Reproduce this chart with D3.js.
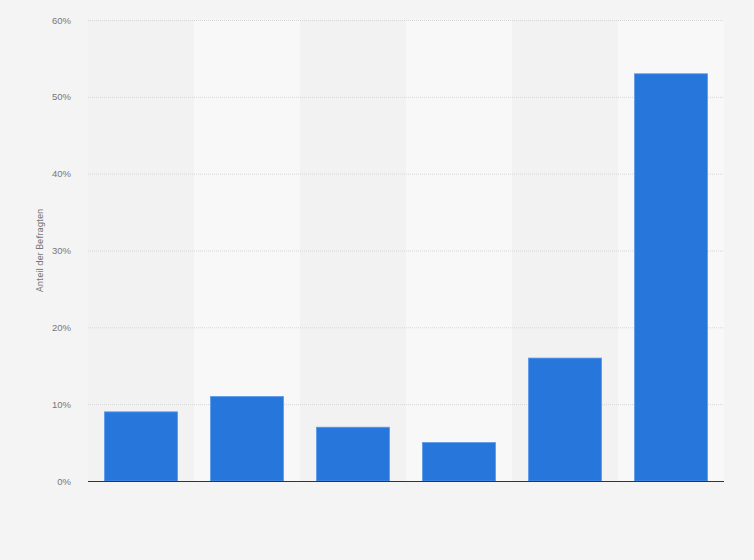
<!DOCTYPE html>
<html>
<head>
<meta charset="utf-8">
<script src="https://cdn.jsdelivr.net/npm/d3@7"></script>
<style>
  body { margin: 0; background: #f4f4f4; }
  svg { display: block; font-family: Roboto, "Noto Sans", sans-serif; }
</style>
</head>
<body>
<div id="chart"></div>
<script>
// data (no category labels shown)
const categories = ["A", "B", "C", "D", "E", "F"];
const shares = [9, 11, 7, 5, 16, 53];
const yTicks = [0, 10, 20, 30, 40, 50, 60];
const yTitle = "Anteil der Befragten";

const svgWidth = 754, svgHeight = 560;
const margin = { top: 20, right: 30, bottom: 79, left: 88 };
const width = svgWidth - margin.left - margin.right;
const height = svgHeight - margin.top - margin.bottom;

const svg = d3.select("#chart")
  .append("svg")
  .attr("width", svgWidth)
  .attr("height", svgHeight);

svg.append("rect")
  .attr("width", svgWidth)
  .attr("height", svgHeight)
  .attr("fill", "#f4f4f4");

const g = svg.append("g")
  .attr("transform", `translate(${margin.left},${margin.top})`);

const x = d3.scaleBand()
  .domain(categories)
  .range([0, width])
  .paddingInner(0)
  .paddingOuter(0);

const y = d3.scaleLinear()
  .domain([0, 60])
  .range([height, 0]);

// alternating column bands
g.selectAll("rect.band")
  .data(categories)
  .join("rect")
    .attr("class", "band")
    .attr("x", d => x(d))
    .attr("y", 0)
    .attr("width", x.bandwidth())
    .attr("height", height)
    .attr("fill", (d, i) => i % 2 === 0 ? "#f2f2f2" : "#f8f8f8");

// gridlines
g.selectAll("line.grid")
  .data(yTicks.filter(t => t > 0))
  .join("line")
    .attr("class", "grid")
    .attr("x1", 0)
    .attr("x2", width)
    .attr("y1", d => y(d) + 0.5)
    .attr("y2", d => y(d) + 0.5)
    .attr("stroke", "#d6d6d6")
    .attr("stroke-dasharray", "1,1");

// tick labels
const yAxisG = g.append("g")
  .attr("transform", "translate(-14,0)")
  .call(d3.axisLeft(y).tickValues(yTicks).tickSize(0).tickFormat(d => d + "%"));
yAxisG.select("path.domain").remove();
yAxisG.selectAll("text")
  .attr("fill", "#777")
  .style("font-size", "9.5px");

// bars
const barW = 73;
g.selectAll("rect.bar")
  .data(shares)
  .join("rect")
    .attr("class", "bar")
    .attr("x", (d, i) => x(categories[i]) + (x.bandwidth() - barW) / 2)
    .attr("y", d => y(d))
    .attr("width", barW)
    .attr("height", d => height - y(d))
    .attr("fill", "#2776dc")
    .attr("stroke", "#5c9ae8")
    .attr("stroke-width", 0.8);

// baseline
g.append("line")
  .attr("x1", 0)
  .attr("x2", width)
  .attr("y1", height + 0.5)
  .attr("y2", height + 0.5)
  .attr("stroke", "#333")
  .attr("stroke-width", 1.2);

// y title
svg.append("text")
  .attr("transform", `translate(43,${margin.top + height / 2}) rotate(-90)`)
  .attr("text-anchor", "middle")
  .attr("fill", "#777")
  .style("font-size", "9.5px")
  .text(yTitle);
</script>
</body>
</html>
